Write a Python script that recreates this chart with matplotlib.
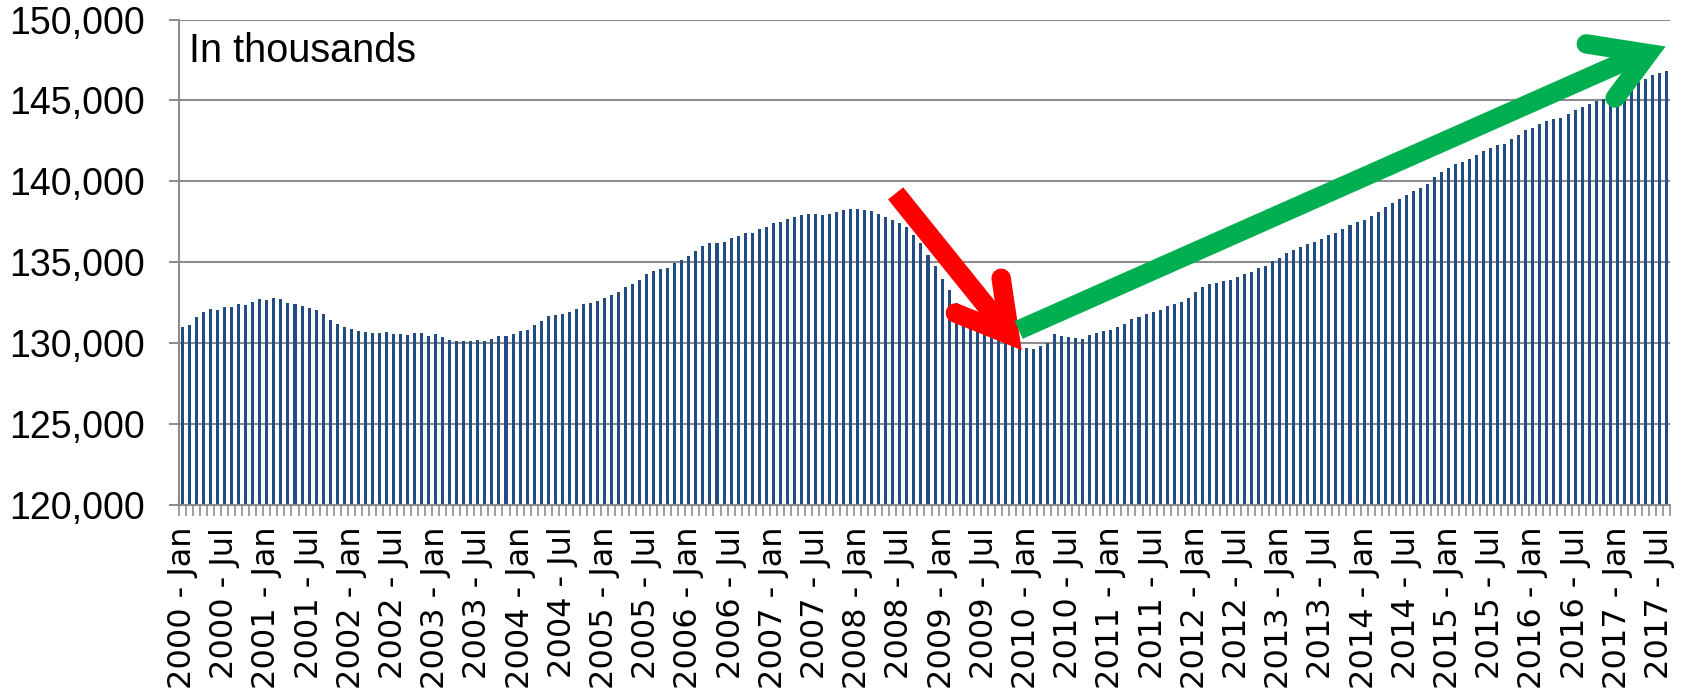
import matplotlib.pyplot as plt
import numpy as np

# Total nonfarm employment, monthly, in thousands (Jan 2000 - Aug 2017)
employment_2000s = [
    131000, 131110, 131600, 131890, 132090, 132050, 132250, 132230, 132380, 132360, 132560, 132700,
    132680, 132750, 132700, 132460, 132420, 132270, 132170, 132010, 131780, 131430, 131150, 130980,
    130860, 130740, 130700, 130610, 130590, 130660, 130570, 130550, 130490, 130610, 130610, 130450,
    130540, 130390, 130190, 130140, 130140, 130140, 130170, 130100, 130230, 130410, 130430, 130560,
    130720, 130790, 131100, 131360, 131670, 131740, 131780, 131920, 132090, 132400, 132480, 132600,
    132750, 132980, 133140, 133470, 133660, 133880, 134280, 134460, 134550, 134620, 134970, 135100,
    135370, 135700, 135970, 136150, 136150, 136260, 136460, 136630, 136810, 136810, 137020, 137160,
    137410, 137510, 137670, 137760, 137920, 137980, 137960, 137940, 138000, 138090, 138210, 138290,
    138310, 138230, 138150, 137960, 137760, 137590, 137390, 137140, 136690, 136210, 135450, 134750,
    133950, 133250, 132450, 131600, 131200, 130900, 130650, 130480, 130300, 130120, 129980, 129670,
]
employment_2010s = [
    129690, 129620, 129780, 130020, 130560, 130430, 130350, 130330, 130270, 130500, 130640, 130740,
    130800, 130970, 131150, 131500, 131600, 131770, 131890, 132020, 132260, 132420, 132540, 132800,
    133170, 133440, 133630, 133730, 133860, 133870, 134070, 134250, 134400, 134630, 134770, 135060,
    135270, 135580, 135730, 135910, 136120, 136240, 136410, 136660, 136830, 137030, 137320, 137490,
    137630, 137840, 138070, 138400, 138650, 138920, 139170, 139380, 139610, 139810, 140270, 140580,
    140800, 141050, 141170, 141380, 141630, 141850, 142080, 142220, 142300, 142590, 142880, 143150,
    143310, 143520, 143720, 143870, 143890, 144160, 144400, 144590, 144810, 144960, 145120, 145290,
    145470, 145800, 146030, 146150, 146350, 146560, 146700, 146830,
]
employment = employment_2000s + employment_2010s

months = ['Jan', 'Feb', 'Mar', 'Apr', 'May', 'Jun', 'Jul', 'Aug', 'Sep', 'Oct', 'Nov', 'Dec']
categories = [f'{2000 + k // 12} - {months[k % 12]}' for k in range(len(employment))]
label_every = 6

# annotation arrows, in (category index, value) coordinates
red_shaft = ([101.4, 117.6], [139250, 130500])
red_head = ([109.9, 117.6, 116.4], [131850, 130500, 134000])
green_shaft = ([118.9, 207.8], [130800, 147950])
green_head = ([199.6, 208.4, 203.7], [148500, 147900, 145150])

grid_grey = '#8c8c8c'
bar_blue = '#234c83'

fig = plt.figure(figsize=(16.85, 6.95), dpi=100)
ax = fig.add_axes([0.1062, 0.2741, 0.8849, 0.6976])

x = np.arange(len(employment))
ax.bar(x, employment, width=0.43, color=bar_blue, zorder=2)

ax.set_xlim(-0.5, len(employment) - 0.5)
ax.set_ylim(120000, 150000)

# y axis
yticks = np.arange(120000, 150001, 5000)
ax.set_yticks(yticks)
ax.set_yticklabels([f'{v:,}' for v in yticks], fontsize=27, family='Liberation Sans')
ax.tick_params(axis='y', direction='out', length=7.5, width=1.4, color=grid_grey, pad=17)
ax.grid(axis='y', color=grid_grey, linewidth=1.5, zorder=1)
ax.set_axisbelow(True)

# x axis: tick marks between categories, labels every 6 months
ax.set_xticks(x[::label_every])
ax.set_xticklabels(categories[::label_every], rotation=90, fontsize=23,
                   family='DejaVu Sans')
ax.set_xticks(np.arange(-0.5, len(employment), 1), minor=True)
ax.tick_params(axis='x', which='major', length=0, pad=16)
ax.tick_params(axis='x', which='minor', direction='out', length=8, width=1.2, color=grid_grey)

for side in ['top', 'right']:
    ax.spines[side].set_visible(False)
for side in ['left', 'bottom']:
    ax.spines[side].set_color(grid_grey)
    ax.spines[side].set_linewidth(1.5)

ax.text(0.007, 0.975, 'In thousands', transform=ax.transAxes, ha='left', va='top',
        fontsize=28.5, family='Liberation Sans')

# arrows
lw = 14
ax.plot(*red_shaft, color='#ff0000', lw=lw, solid_capstyle='butt', zorder=5)
ax.plot(*red_head, color='#ff0000', lw=lw, solid_capstyle='round',
        solid_joinstyle='miter', zorder=5)
ax.plot(*green_shaft, color='#00b050', lw=lw, solid_capstyle='butt', zorder=5)
ax.plot(*green_head, color='#00b050', lw=lw, solid_capstyle='round',
        solid_joinstyle='miter', zorder=5, clip_on=False)

fig.savefig('out.png', dpi=100, facecolor='white')
